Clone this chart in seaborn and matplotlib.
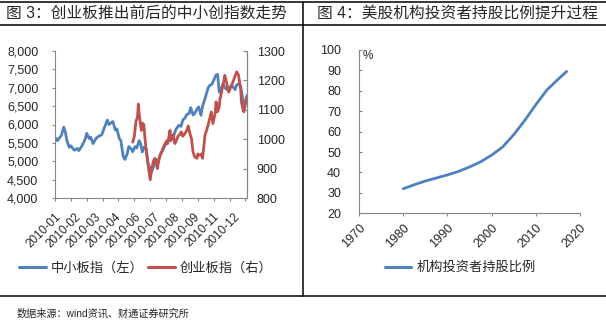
import matplotlib
matplotlib.use("Agg")
import matplotlib.pyplot as plt
from matplotlib.lines import Line2D
from matplotlib.ticker import FuncFormatter
import seaborn as sns

# SME board index (left axis), by trading day of 2010
sme_day = [0, 3, 5, 8, 11, 13, 15, 18, 20, 23, 25, 28, 30, 34, 38, 40, 43, 45, 48, 52,
           55, 59, 62, 66, 68, 71, 73, 76, 78, 81, 83, 86, 88, 91, 93, 96, 98, 101, 103, 106,
           108, 110, 112, 115, 117, 120, 122, 125, 127, 130, 132, 136, 139, 142, 146, 150, 152, 156, 159, 161,
           164, 166, 169, 171, 174, 176, 179, 181, 184, 186, 189, 193, 195, 198, 200, 203, 205, 207, 209, 212,
           214, 217, 219, 222, 224, 227, 229, 232, 234, 237, 239, 242]
sme_value = [5650, 5560, 5620, 5700, 5930, 5800, 5560, 5380, 5420, 5330, 5300, 5350, 5290, 5420, 5600, 5760, 5620, 5650, 5480, 5630,
             5680, 5720, 5900, 6120, 6000, 6050, 6080, 5850, 5880, 5620, 5560, 5130, 5050, 5200, 5400, 5340, 5260, 5400, 5360, 5560,
             5470, 5250, 5380, 5330, 4950, 4800, 4720, 4900, 5050, 4980, 5150, 5310, 5450, 5530, 5640, 5720, 5850, 5980, 5950, 6120,
             6180, 6270, 6300, 6460, 6260, 6300, 6420, 6480, 6250, 6500, 6700, 7000, 7060, 7100, 7200, 7350, 7360, 6880, 6950, 7100,
             7000, 6950, 6980, 7050, 7030, 6950, 7080, 7100, 7050, 6650, 6500, 6800]

# ChiNext index (right axis), from its launch
gem_day = [98, 100, 102, 104, 105, 106, 108, 109, 110, 112, 113, 115, 117, 118, 120, 122, 124, 126, 128, 129,
           131, 133, 135, 137, 139, 141, 142, 145, 146, 149, 151, 153, 155, 157, 159, 161, 164, 166, 168, 170,
           172, 174, 176, 179, 180, 183, 185, 186, 189, 191, 193, 195, 197, 199, 202, 203, 205, 207, 208, 210,
           211, 213, 214, 216, 217, 219, 222, 225, 227, 229, 231, 232, 234, 235, 237, 238, 240, 242]
gem_value = [990, 1010, 1060, 1075, 1120, 1090, 1045, 1030, 1055, 1050, 1015, 960, 923, 900, 862, 900, 925, 935, 915, 900,
             930, 950, 960, 975, 985, 995, 985, 1030, 995, 1015, 985, 995, 1010, 1015, 1025, 1010, 1020, 1030, 1045, 1020,
             1002, 957, 940, 935, 950, 945, 950, 935, 1013, 1030, 1048, 1070, 1093, 1053, 1090, 1127, 1093, 1110, 1138, 1160,
             1178, 1200, 1217, 1195, 1183, 1160, 1180, 1200, 1215, 1229, 1220, 1206, 1170, 1127, 1100, 1093, 1120, 1144]

month_labels = ["2010-01", "2010-02", "2010-03", "2010-04", "2010-06",
                "2010-07", "2010-08", "2010-09", "2010-11", "2010-12"]

# Share of US equities held by institutional investors (%)
years = [1980, 1982.5, 1985, 1987.5, 1990, 1992.5, 1995, 1997.5, 2000, 2002.5,
         2005, 2007.5, 2010, 2012.5, 2015, 2017]
inst_share = [32.0, 34.0, 35.8, 37.3, 38.8, 40.5, 42.7, 45.2, 48.5, 52.5,
              58.5, 65.5, 73.2, 80.4, 85.6, 89.5]

sns.set_theme(style="ticks")
plt.rcParams["font.family"] = ["Liberation Sans", "Noto Sans CJK SC", "DejaVu Sans"]

BLUE = "#4F81BD"
RED = "#C0504D"
AXC = "#868686"
W, H = 606, 324

fig = plt.figure(figsize=(6.06, 3.24), dpi=100)

# ---------- left panel: SME vs ChiNext ----------
ax = fig.add_axes([55 / W, 1 - 198 / H, 192 / W, 147 / H])
sns.lineplot(x=sme_day, y=sme_value, ax=ax, color=BLUE, lw=2.0)
ax.set_xlim(0, 242)
ax.set_ylim(4000, 8000)
ax.set_yticks(range(4000, 8001, 500))
ax.yaxis.set_major_formatter(FuncFormatter(lambda v, p: f"{int(v):,}"))
# labels every 25 trading days, tick marks every 20
ax.xaxis.remove_overlapping_locs = False
ax.set_xticks([25 * i for i in range(len(month_labels))])
ax.set_xticklabels(month_labels, rotation=45, ha="right", va="top",
                   rotation_mode="anchor", fontsize=8.5)
ax.set_xticks(range(0, 241, 20), minor=True)
ax.tick_params(axis="x", which="major", length=0, pad=9)
ax.tick_params(axis="x", which="minor", length=2.5, width=0.8, color=AXC, direction="out")
ax.tick_params(axis="y", length=2.5, width=0.8, color=AXC, direction="out", pad=9.5, labelsize=9)
ax.set_xlabel("")
ax.set_ylabel("")
for s in ["left", "bottom", "right"]:
    ax.spines[s].set_color(AXC)
    ax.spines[s].set_linewidth(0.8)
ax.spines["top"].set_visible(False)

ax2 = ax.twinx()
sns.lineplot(x=gem_day, y=gem_value, ax=ax2, color=RED, lw=2.0)
ax2.set_ylim(800, 1300)
ax2.set_yticks(range(800, 1301, 100))
ax2.set_ylabel("")
ax2.tick_params(axis="y", right=True, length=3, width=0.8, color=AXC, direction="in", pad=7, labelsize=9)
for s in ["left", "bottom", "top"]:
    ax2.spines[s].set_visible(False)
ax2.spines["right"].set_color(AXC)
ax2.spines["right"].set_linewidth(0.8)

fig.legend(handles=[Line2D([], [], color=BLUE, lw=2.2), Line2D([], [], color=RED, lw=2.2)],
           labels=["中小板指（左）", "创业板指（右）"], loc="center",
           bbox_to_anchor=(146 / W, 1 - 268 / H), ncol=2, frameon=False, fontsize=9.5,
           handlelength=2.0, handletextpad=0.4, columnspacing=0.35)

# ---------- right panel: institutional ownership ----------
ax3 = fig.add_axes([359 / W, 1 - 213.3 / H, 221 / W, 163.3 / H])
sns.lineplot(x=years, y=inst_share, ax=ax3, color=BLUE, lw=2.0)
ax3.set_xlim(1970, 2020)
ax3.set_ylim(20, 100)
ax3.set_xticks(range(1970, 2021, 10))
ax3.set_yticks(range(20, 101, 10))
ax3.set_xticklabels([str(y) for y in range(1970, 2021, 10)], rotation=45, ha="right",
                    va="top", rotation_mode="anchor", fontsize=9)
ax3.tick_params(axis="x", length=2.5, width=0.8, color=AXC, direction="out", pad=4)
ax3.tick_params(axis="y", length=2.5, width=0.8, color=AXC, direction="in", pad=13, labelsize=9)
ax3.set_xlabel("")
ax3.set_ylabel("")
for s in ["left", "bottom"]:
    ax3.spines[s].set_color(AXC)
    ax3.spines[s].set_linewidth(0.8)
ax3.spines["top"].set_visible(False)
ax3.spines["right"].set_visible(False)
ax3.text(0.018, 0.965, "%", transform=ax3.transAxes, fontsize=8.5, va="center", ha="left")

fig.legend(handles=[Line2D([], [], color=BLUE, lw=2.2)], labels=["机构投资者持股比例"],
           loc="center", bbox_to_anchor=(460 / W, 1 - 268 / H), frameon=False, fontsize=9.5,
           handlelength=2.0, handletextpad=0.4)

# ---------- titles, frame and source ----------
fig.text(6 / W, 1 - 13.5 / H, "图 3：创业板推出前后的中小创指数走势", fontsize=11.3, va="center", ha="left")
fig.text(317 / W, 1 - 13.5 / H, "图 4：美股机构投资者持股比例提升过程", fontsize=11.3, va="center", ha="left")

frame = dict(transform=fig.transFigure, color="black", lw=1.1)
fig.add_artist(Line2D([0, 1], [1 - 1.5 / H] * 2, **frame))
fig.add_artist(Line2D([0, 1], [1 - 25 / H] * 2, **frame))
fig.add_artist(Line2D([0, 1], [1 - 296 / H] * 2, **frame))
fig.add_artist(Line2D([303 / W] * 2, [1 - 1.5 / H, 1 - 296 / H], **frame))

fig.text(17 / W, 1 - 314 / H, "数据来源：wind资讯、财通证券研究所", fontsize=7.3, va="center", ha="left")

fig.savefig("out.png", dpi=100)
